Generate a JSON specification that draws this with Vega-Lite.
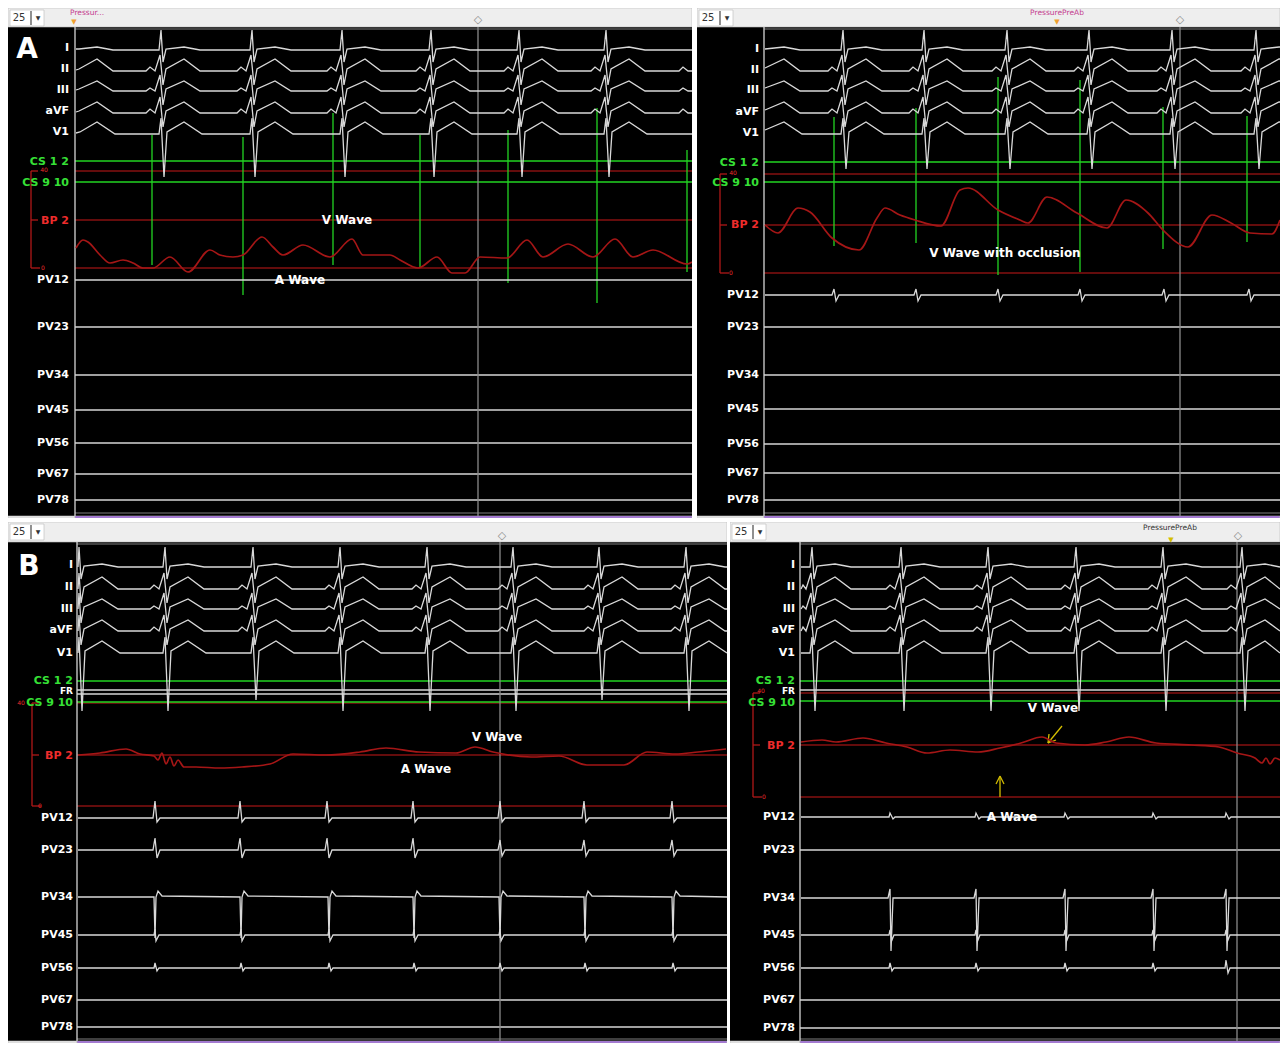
{
"$schema":"https://vega.github.io/schema/vega-lite/v6.json",
"background":"#ffffff",
"padding":{"left":8,"top":8,"right":4,"bottom":2},
"config":{"view":{"stroke":null}},
"datasets":{
"a1b":[{"k":"tb","x":8,"x2":692,"y":8,"y2":27},{"k":"wb","x":10,"x2":44,"y":10,"y2":26},{"k":"tb","x":8,"x2":75,"y":516,"y2":518},{"k":"pu","x":75,"x2":692,"y":516,"y2":518}],
"a1r":[{"k":"q","x":75,"y":29,"x2":692,"y2":29},{"k":"q","x":75,"y":513,"x2":692,"y2":513},
{"k":"d","x":75,"y":171,"x2":692,"y2":171},{"k":"d","x":75,"y":220,"x2":692,"y2":220},{"k":"d","x":75,"y":268,"x2":692,"y2":268},
{"k":"r","x":31,"y":171,"x2":31,"y2":268},{"k":"r","x":31,"y":171,"x2":38,"y2":171},{"k":"r","x":31,"y":220,"x2":38,"y2":220},{"k":"r","x":31,"y":268,"x2":40,"y2":268},
{"k":"g","x":75,"y":161,"x2":692,"y2":161},{"k":"g","x":75,"y":182,"x2":692,"y2":182},
{"k":"g","x":152,"y":135,"x2":152,"y2":265},{"k":"g","x":243,"y":137,"x2":243,"y2":295},{"k":"g","x":333,"y":113,"x2":333,"y2":265},{"k":"g","x":420,"y":135,"x2":420,"y2":267},{"k":"g","x":508,"y":130,"x2":508,"y2":283},{"k":"g","x":597,"y":108,"x2":597,"y2":303},{"k":"g","x":687,"y":150,"x2":687,"y2":272},
{"k":"w","x":75,"y":280,"x2":692,"y2":280},{"k":"w","x":75,"y":327,"x2":692,"y2":327},{"k":"w","x":75,"y":375,"x2":692,"y2":375},{"k":"w","x":75,"y":410,"x2":692,"y2":410},{"k":"w","x":75,"y":443,"x2":692,"y2":443},{"k":"w","x":75,"y":474,"x2":692,"y2":474},{"k":"w","x":75,"y":500,"x2":692,"y2":500},
{"k":"w","x":75,"y":27,"x2":75,"y2":516},{"k":"c","x":478,"y":27,"x2":478,"y2":516},{"k":"q","x":31,"y":11,"x2":31,"y2":25}],
"a1x":[{"r":"lab","s":"I","x":69,"y":48,"k":"W"},{"r":"lab","s":"II","x":69,"y":69,"k":"W"},{"r":"lab","s":"III","x":69,"y":90,"k":"W"},{"r":"lab","s":"aVF","x":69,"y":111,"k":"W"},{"r":"lab","s":"V1","x":69,"y":132,"k":"W"},
{"r":"lab","s":"CS 1 2","x":69,"y":162,"k":"G"},{"r":"lab","s":"CS 9 10","x":69,"y":183,"k":"G"},{"r":"lab","s":"BP 2","x":69,"y":221,"k":"R"},
{"r":"lab","s":"PV12","x":69,"y":280,"k":"W"},{"r":"lab","s":"PV23","x":69,"y":327,"k":"W"},{"r":"lab","s":"PV34","x":69,"y":375,"k":"W"},{"r":"lab","s":"PV45","x":69,"y":410,"k":"W"},{"r":"lab","s":"PV56","x":69,"y":443,"k":"W"},{"r":"lab","s":"PV67","x":69,"y":474,"k":"W"},{"r":"lab","s":"PV78","x":69,"y":500,"k":"W"},
{"r":"big","s":"A","x":27,"y":50,"k":"W"},{"r":"ann","s":"V Wave","x":347,"y":220,"k":"W"},{"r":"ann","s":"A Wave","x":300,"y":280,"k":"W"},
{"r":"num","s":"25","x":19,"y":18,"k":"t"},{"r":"sm","s":"▼","x":38,"y":18,"k":"t"},{"r":"tb","s":"Pressur...","x":87,"y":13,"k":"m"},{"r":"tri","s":"▼","x":74,"y":22,"k":"o"},{"r":"sym","s":"◇","x":478,"y":20,"k":"c"},{"r":"sm","s":"40","x":44,"y":170,"k":"R"},{"r":"sm","s":"0","x":43,"y":268,"k":"R"}],
"a1t":[
{"c":"I","x":76,"y":49},{"c":"I","x":79,"y":49},{"c":"I","x":97,"y":47},{"c":"I","x":113,"y":50},
{"c":"I","x":159,"y":50},{"c":"I","x":161,"y":30},{"c":"I","x":163,"y":62},{"c":"I","x":166,"y":49},{"c":"I","x":184,"y":47},{"c":"I","x":200,"y":50},
{"c":"I","x":250,"y":50},{"c":"I","x":252,"y":30},{"c":"I","x":254,"y":62},{"c":"I","x":257,"y":49},{"c":"I","x":275,"y":47},{"c":"I","x":291,"y":50},
{"c":"I","x":340,"y":50},{"c":"I","x":342,"y":30},{"c":"I","x":344,"y":62},{"c":"I","x":347,"y":49},{"c":"I","x":365,"y":47},{"c":"I","x":381,"y":50},
{"c":"I","x":429,"y":50},{"c":"I","x":431,"y":30},{"c":"I","x":433,"y":62},{"c":"I","x":436,"y":49},{"c":"I","x":454,"y":47},{"c":"I","x":470,"y":50},
{"c":"I","x":517,"y":50},{"c":"I","x":519,"y":30},{"c":"I","x":521,"y":62},{"c":"I","x":524,"y":49},{"c":"I","x":542,"y":47},{"c":"I","x":558,"y":50},
{"c":"I","x":604,"y":50},{"c":"I","x":606,"y":30},{"c":"I","x":608,"y":62},{"c":"I","x":611,"y":49},{"c":"I","x":629,"y":47},{"c":"I","x":645,"y":50},{"c":"I","x":692,"y":50},
{"c":"II","x":76,"y":70},{"c":"II","x":79,"y":69},{"c":"II","x":97,"y":59},{"c":"II","x":113,"y":71},
{"c":"II","x":146,"y":71},{"c":"II","x":150,"y":67},{"c":"II","x":155,"y":71},{"c":"II","x":160,"y":55},{"c":"II","x":163,"y":85},{"c":"II","x":166,"y":69},{"c":"II","x":184,"y":59},{"c":"II","x":200,"y":71},
{"c":"II","x":237,"y":71},{"c":"II","x":241,"y":67},{"c":"II","x":246,"y":71},{"c":"II","x":251,"y":55},{"c":"II","x":254,"y":85},{"c":"II","x":257,"y":69},{"c":"II","x":275,"y":59},{"c":"II","x":291,"y":71},
{"c":"II","x":327,"y":71},{"c":"II","x":331,"y":67},{"c":"II","x":336,"y":71},{"c":"II","x":341,"y":55},{"c":"II","x":344,"y":85},{"c":"II","x":347,"y":69},{"c":"II","x":365,"y":59},{"c":"II","x":381,"y":71},
{"c":"II","x":416,"y":71},{"c":"II","x":420,"y":67},{"c":"II","x":425,"y":71},{"c":"II","x":430,"y":55},{"c":"II","x":433,"y":85},{"c":"II","x":436,"y":69},{"c":"II","x":454,"y":59},{"c":"II","x":470,"y":71},
{"c":"II","x":504,"y":71},{"c":"II","x":508,"y":67},{"c":"II","x":513,"y":71},{"c":"II","x":518,"y":55},{"c":"II","x":521,"y":85},{"c":"II","x":524,"y":69},{"c":"II","x":542,"y":59},{"c":"II","x":558,"y":71},
{"c":"II","x":591,"y":71},{"c":"II","x":595,"y":67},{"c":"II","x":600,"y":71},{"c":"II","x":605,"y":55},{"c":"II","x":608,"y":85},{"c":"II","x":611,"y":69},{"c":"II","x":629,"y":59},{"c":"II","x":645,"y":71},
{"c":"II","x":679,"y":71},{"c":"II","x":683,"y":67},{"c":"II","x":688,"y":71},{"c":"II","x":692,"y":71},
{"c":"III","x":76,"y":90},{"c":"III","x":79,"y":89},{"c":"III","x":97,"y":81},{"c":"III","x":113,"y":91},
{"c":"III","x":146,"y":91},{"c":"III","x":150,"y":88},{"c":"III","x":155,"y":91},{"c":"III","x":160,"y":75},{"c":"III","x":163,"y":105},{"c":"III","x":166,"y":89},{"c":"III","x":184,"y":81},{"c":"III","x":200,"y":91},
{"c":"III","x":237,"y":91},{"c":"III","x":241,"y":88},{"c":"III","x":246,"y":91},{"c":"III","x":251,"y":75},{"c":"III","x":254,"y":105},{"c":"III","x":257,"y":89},{"c":"III","x":275,"y":81},{"c":"III","x":291,"y":91},
{"c":"III","x":327,"y":91},{"c":"III","x":331,"y":88},{"c":"III","x":336,"y":91},{"c":"III","x":341,"y":75},{"c":"III","x":344,"y":105},{"c":"III","x":347,"y":89},{"c":"III","x":365,"y":81},{"c":"III","x":381,"y":91},
{"c":"III","x":416,"y":91},{"c":"III","x":420,"y":88},{"c":"III","x":425,"y":91},{"c":"III","x":430,"y":75},{"c":"III","x":433,"y":105},{"c":"III","x":436,"y":89},{"c":"III","x":454,"y":81},{"c":"III","x":470,"y":91},
{"c":"III","x":504,"y":91},{"c":"III","x":508,"y":88},{"c":"III","x":513,"y":91},{"c":"III","x":518,"y":75},{"c":"III","x":521,"y":105},{"c":"III","x":524,"y":89},{"c":"III","x":542,"y":81},{"c":"III","x":558,"y":91},
{"c":"III","x":591,"y":91},{"c":"III","x":595,"y":88},{"c":"III","x":600,"y":91},{"c":"III","x":605,"y":75},{"c":"III","x":608,"y":105},{"c":"III","x":611,"y":89},{"c":"III","x":629,"y":81},{"c":"III","x":645,"y":91},
{"c":"III","x":679,"y":91},{"c":"III","x":683,"y":88},{"c":"III","x":688,"y":91},{"c":"III","x":692,"y":91},
{"c":"aVF","x":76,"y":112},{"c":"aVF","x":79,"y":111},{"c":"aVF","x":97,"y":102},{"c":"aVF","x":113,"y":113},
{"c":"aVF","x":146,"y":113},{"c":"aVF","x":150,"y":109},{"c":"aVF","x":155,"y":113},{"c":"aVF","x":160,"y":97},{"c":"aVF","x":163,"y":127},{"c":"aVF","x":166,"y":111},{"c":"aVF","x":184,"y":102},{"c":"aVF","x":200,"y":113},
{"c":"aVF","x":237,"y":113},{"c":"aVF","x":241,"y":109},{"c":"aVF","x":246,"y":113},{"c":"aVF","x":251,"y":97},{"c":"aVF","x":254,"y":127},{"c":"aVF","x":257,"y":111},{"c":"aVF","x":275,"y":102},{"c":"aVF","x":291,"y":113},
{"c":"aVF","x":327,"y":113},{"c":"aVF","x":331,"y":109},{"c":"aVF","x":336,"y":113},{"c":"aVF","x":341,"y":97},{"c":"aVF","x":344,"y":127},{"c":"aVF","x":347,"y":111},{"c":"aVF","x":365,"y":102},{"c":"aVF","x":381,"y":113},
{"c":"aVF","x":416,"y":113},{"c":"aVF","x":420,"y":109},{"c":"aVF","x":425,"y":113},{"c":"aVF","x":430,"y":97},{"c":"aVF","x":433,"y":127},{"c":"aVF","x":436,"y":111},{"c":"aVF","x":454,"y":102},{"c":"aVF","x":470,"y":113},
{"c":"aVF","x":504,"y":113},{"c":"aVF","x":508,"y":109},{"c":"aVF","x":513,"y":113},{"c":"aVF","x":518,"y":97},{"c":"aVF","x":521,"y":127},{"c":"aVF","x":524,"y":111},{"c":"aVF","x":542,"y":102},{"c":"aVF","x":558,"y":113},
{"c":"aVF","x":591,"y":113},{"c":"aVF","x":595,"y":109},{"c":"aVF","x":600,"y":113},{"c":"aVF","x":605,"y":97},{"c":"aVF","x":608,"y":127},{"c":"aVF","x":611,"y":111},{"c":"aVF","x":629,"y":102},{"c":"aVF","x":645,"y":113},
{"c":"aVF","x":679,"y":113},{"c":"aVF","x":683,"y":109},{"c":"aVF","x":688,"y":113},{"c":"aVF","x":692,"y":113},
{"c":"V1","x":76,"y":133},{"c":"V1","x":80,"y":132},{"c":"V1","x":97,"y":122},{"c":"V1","x":115,"y":134},
{"c":"V1","x":159,"y":134},{"c":"V1","x":161,"y":118},{"c":"V1","x":164,"y":177},{"c":"V1","x":167,"y":132},{"c":"V1","x":184,"y":122},{"c":"V1","x":202,"y":134},
{"c":"V1","x":250,"y":134},{"c":"V1","x":252,"y":118},{"c":"V1","x":255,"y":177},{"c":"V1","x":258,"y":132},{"c":"V1","x":275,"y":122},{"c":"V1","x":293,"y":134},
{"c":"V1","x":340,"y":134},{"c":"V1","x":342,"y":118},{"c":"V1","x":345,"y":177},{"c":"V1","x":348,"y":132},{"c":"V1","x":365,"y":122},{"c":"V1","x":383,"y":134},
{"c":"V1","x":429,"y":134},{"c":"V1","x":431,"y":118},{"c":"V1","x":434,"y":177},{"c":"V1","x":437,"y":132},{"c":"V1","x":454,"y":122},{"c":"V1","x":472,"y":134},
{"c":"V1","x":517,"y":134},{"c":"V1","x":519,"y":118},{"c":"V1","x":522,"y":177},{"c":"V1","x":525,"y":132},{"c":"V1","x":542,"y":122},{"c":"V1","x":560,"y":134},
{"c":"V1","x":604,"y":134},{"c":"V1","x":606,"y":118},{"c":"V1","x":609,"y":177},{"c":"V1","x":612,"y":132},{"c":"V1","x":629,"y":122},{"c":"V1","x":647,"y":134},{"c":"V1","x":692,"y":134},
{"c":"BP","x":76,"y":248},{"c":"BP","x":83,"y":240},{"c":"BP","x":88,"y":242},{"c":"BP","x":100,"y":255},{"c":"BP","x":110,"y":263},{"c":"BP","x":123,"y":260},{"c":"BP","x":133,"y":263},{"c":"BP","x":143,"y":268},{"c":"BP","x":153,"y":268},{"c":"BP","x":170,"y":257},{"c":"BP","x":188,"y":272},{"c":"BP","x":210,"y":250},{"c":"BP","x":220,"y":255},{"c":"BP","x":233,"y":257},{"c":"BP","x":243,"y":255},{"c":"BP","x":262,"y":237},{"c":"BP","x":273,"y":247},{"c":"BP","x":283,"y":255},{"c":"BP","x":303,"y":245},{"c":"BP","x":330,"y":257},{"c":"BP","x":352,"y":239},{"c":"BP","x":363,"y":255},{"c":"BP","x":390,"y":255},{"c":"BP","x":400,"y":260},{"c":"BP","x":418,"y":268},{"c":"BP","x":437,"y":257},{"c":"BP","x":452,"y":273},{"c":"BP","x":465,"y":273},{"c":"BP","x":480,"y":257},{"c":"BP","x":507,"y":258},{"c":"BP","x":527,"y":240},{"c":"BP","x":543,"y":257},{"c":"BP","x":568,"y":244},{"c":"BP","x":593,"y":257},{"c":"BP","x":615,"y":239},{"c":"BP","x":633,"y":257},{"c":"BP","x":653,"y":250},{"c":"BP","x":687,"y":264},{"c":"BP","x":692,"y":262}
],
"a2b":[{"k":"tb","x":697,"x2":1280,"y":8,"y2":27},{"k":"wb","x":699,"x2":733,"y":10,"y2":26},{"k":"tb","x":697,"x2":764,"y":516,"y2":518},{"k":"pu","x":764,"x2":1280,"y":516,"y2":518}],
"a2r":[{"k":"q","x":764,"y":29,"x2":1280,"y2":29},{"k":"q","x":764,"y":513,"x2":1280,"y2":513},
{"k":"d","x":764,"y":174,"x2":1280,"y2":174},{"k":"d","x":764,"y":225,"x2":1280,"y2":225},{"k":"d","x":764,"y":273,"x2":1280,"y2":273},
{"k":"r","x":720,"y":174,"x2":720,"y2":273},{"k":"r","x":720,"y":174,"x2":727,"y2":174},{"k":"r","x":720,"y":225,"x2":727,"y2":225},{"k":"r","x":720,"y":273,"x2":729,"y2":273},
{"k":"g","x":764,"y":162,"x2":1280,"y2":162},{"k":"g","x":764,"y":182,"x2":1280,"y2":182},
{"k":"g","x":834,"y":117,"x2":834,"y2":246},{"k":"g","x":916,"y":108,"x2":916,"y2":243},{"k":"g","x":998,"y":77,"x2":998,"y2":275},{"k":"g","x":1080,"y":80,"x2":1080,"y2":272},{"k":"g","x":1163,"y":107,"x2":1163,"y2":249},{"k":"g","x":1247,"y":116,"x2":1247,"y2":242},
{"k":"w","x":764,"y":327,"x2":1280,"y2":327},{"k":"w","x":764,"y":375,"x2":1280,"y2":375},{"k":"w","x":764,"y":409,"x2":1280,"y2":409},{"k":"w","x":764,"y":444,"x2":1280,"y2":444},{"k":"w","x":764,"y":473,"x2":1280,"y2":473},{"k":"w","x":764,"y":500,"x2":1280,"y2":500},
{"k":"w","x":764,"y":27,"x2":764,"y2":516},{"k":"c","x":1180,"y":27,"x2":1180,"y2":516},{"k":"q","x":720,"y":11,"x2":720,"y2":25}],
"a2x":[{"r":"lab","s":"I","x":759,"y":49,"k":"W"},{"r":"lab","s":"II","x":759,"y":70,"k":"W"},{"r":"lab","s":"III","x":759,"y":90,"k":"W"},{"r":"lab","s":"aVF","x":759,"y":112,"k":"W"},{"r":"lab","s":"V1","x":759,"y":133,"k":"W"},
{"r":"lab","s":"CS 1 2","x":759,"y":163,"k":"G"},{"r":"lab","s":"CS 9 10","x":759,"y":183,"k":"G"},{"r":"lab","s":"BP 2","x":759,"y":225,"k":"R"},
{"r":"lab","s":"PV12","x":759,"y":295,"k":"W"},{"r":"lab","s":"PV23","x":759,"y":327,"k":"W"},{"r":"lab","s":"PV34","x":759,"y":375,"k":"W"},{"r":"lab","s":"PV45","x":759,"y":409,"k":"W"},{"r":"lab","s":"PV56","x":759,"y":444,"k":"W"},{"r":"lab","s":"PV67","x":759,"y":473,"k":"W"},{"r":"lab","s":"PV78","x":759,"y":500,"k":"W"},
{"r":"ann","s":"V Wave with occlusion","x":1005,"y":253,"k":"W"},
{"r":"num","s":"25","x":708,"y":18,"k":"t"},{"r":"sm","s":"▼","x":727,"y":18,"k":"t"},{"r":"tb","s":"PressurePreAb","x":1057,"y":13,"k":"m"},{"r":"tri","s":"▼","x":1057,"y":22,"k":"o"},{"r":"sym","s":"◇","x":1180,"y":20,"k":"c"},{"r":"sm","s":"40","x":733,"y":173,"k":"R"},{"r":"sm","s":"0","x":731,"y":273,"k":"R"}],
"a2t":[
{"c":"I","x":765,"y":49},{"c":"I","x":784,"y":47},{"c":"I","x":800,"y":50},
{"c":"I","x":841,"y":50},{"c":"I","x":843,"y":30},{"c":"I","x":845,"y":62},{"c":"I","x":848,"y":49},{"c":"I","x":866,"y":47},{"c":"I","x":882,"y":50},
{"c":"I","x":922,"y":50},{"c":"I","x":924,"y":30},{"c":"I","x":926,"y":62},{"c":"I","x":929,"y":49},{"c":"I","x":947,"y":47},{"c":"I","x":963,"y":50},
{"c":"I","x":1005,"y":50},{"c":"I","x":1007,"y":30},{"c":"I","x":1009,"y":62},{"c":"I","x":1012,"y":49},{"c":"I","x":1030,"y":47},{"c":"I","x":1046,"y":50},
{"c":"I","x":1087,"y":50},{"c":"I","x":1089,"y":30},{"c":"I","x":1091,"y":62},{"c":"I","x":1094,"y":49},{"c":"I","x":1112,"y":47},{"c":"I","x":1128,"y":50},
{"c":"I","x":1170,"y":50},{"c":"I","x":1172,"y":30},{"c":"I","x":1174,"y":62},{"c":"I","x":1177,"y":49},{"c":"I","x":1195,"y":47},{"c":"I","x":1211,"y":50},
{"c":"I","x":1254,"y":50},{"c":"I","x":1256,"y":30},{"c":"I","x":1258,"y":62},{"c":"I","x":1261,"y":49},{"c":"I","x":1279,"y":47},{"c":"I","x":1280,"y":47},
{"c":"II","x":765,"y":68},{"c":"II","x":784,"y":59},{"c":"II","x":800,"y":71},
{"c":"II","x":828,"y":71},{"c":"II","x":832,"y":67},{"c":"II","x":837,"y":71},{"c":"II","x":842,"y":55},{"c":"II","x":845,"y":85},{"c":"II","x":848,"y":69},{"c":"II","x":866,"y":59},{"c":"II","x":882,"y":71},
{"c":"II","x":909,"y":71},{"c":"II","x":913,"y":67},{"c":"II","x":918,"y":71},{"c":"II","x":923,"y":55},{"c":"II","x":926,"y":85},{"c":"II","x":929,"y":69},{"c":"II","x":947,"y":59},{"c":"II","x":963,"y":71},
{"c":"II","x":992,"y":71},{"c":"II","x":996,"y":67},{"c":"II","x":1001,"y":71},{"c":"II","x":1006,"y":55},{"c":"II","x":1009,"y":85},{"c":"II","x":1012,"y":69},{"c":"II","x":1030,"y":59},{"c":"II","x":1046,"y":71},
{"c":"II","x":1074,"y":71},{"c":"II","x":1078,"y":67},{"c":"II","x":1083,"y":71},{"c":"II","x":1088,"y":55},{"c":"II","x":1091,"y":85},{"c":"II","x":1094,"y":69},{"c":"II","x":1112,"y":59},{"c":"II","x":1128,"y":71},
{"c":"II","x":1157,"y":71},{"c":"II","x":1161,"y":67},{"c":"II","x":1166,"y":71},{"c":"II","x":1171,"y":55},{"c":"II","x":1174,"y":85},{"c":"II","x":1177,"y":69},{"c":"II","x":1195,"y":59},{"c":"II","x":1211,"y":71},
{"c":"II","x":1241,"y":71},{"c":"II","x":1245,"y":67},{"c":"II","x":1250,"y":71},{"c":"II","x":1255,"y":55},{"c":"II","x":1258,"y":85},{"c":"II","x":1261,"y":69},{"c":"II","x":1279,"y":59},{"c":"II","x":1280,"y":59},
{"c":"III","x":765,"y":88},{"c":"III","x":784,"y":81},{"c":"III","x":800,"y":91},
{"c":"III","x":828,"y":91},{"c":"III","x":832,"y":88},{"c":"III","x":837,"y":91},{"c":"III","x":842,"y":75},{"c":"III","x":845,"y":105},{"c":"III","x":848,"y":89},{"c":"III","x":866,"y":81},{"c":"III","x":882,"y":91},
{"c":"III","x":909,"y":91},{"c":"III","x":913,"y":88},{"c":"III","x":918,"y":91},{"c":"III","x":923,"y":75},{"c":"III","x":926,"y":105},{"c":"III","x":929,"y":89},{"c":"III","x":947,"y":81},{"c":"III","x":963,"y":91},
{"c":"III","x":992,"y":91},{"c":"III","x":996,"y":88},{"c":"III","x":1001,"y":91},{"c":"III","x":1006,"y":75},{"c":"III","x":1009,"y":105},{"c":"III","x":1012,"y":89},{"c":"III","x":1030,"y":81},{"c":"III","x":1046,"y":91},
{"c":"III","x":1074,"y":91},{"c":"III","x":1078,"y":88},{"c":"III","x":1083,"y":91},{"c":"III","x":1088,"y":75},{"c":"III","x":1091,"y":105},{"c":"III","x":1094,"y":89},{"c":"III","x":1112,"y":81},{"c":"III","x":1128,"y":91},
{"c":"III","x":1157,"y":91},{"c":"III","x":1161,"y":88},{"c":"III","x":1166,"y":91},{"c":"III","x":1171,"y":75},{"c":"III","x":1174,"y":105},{"c":"III","x":1177,"y":89},{"c":"III","x":1195,"y":81},{"c":"III","x":1211,"y":91},
{"c":"III","x":1241,"y":91},{"c":"III","x":1245,"y":88},{"c":"III","x":1250,"y":91},{"c":"III","x":1255,"y":75},{"c":"III","x":1258,"y":105},{"c":"III","x":1261,"y":89},{"c":"III","x":1279,"y":81},{"c":"III","x":1280,"y":81},
{"c":"aVF","x":765,"y":110},{"c":"aVF","x":784,"y":102},{"c":"aVF","x":800,"y":113},
{"c":"aVF","x":828,"y":113},{"c":"aVF","x":832,"y":109},{"c":"aVF","x":837,"y":113},{"c":"aVF","x":842,"y":97},{"c":"aVF","x":845,"y":127},{"c":"aVF","x":848,"y":111},{"c":"aVF","x":866,"y":102},{"c":"aVF","x":882,"y":113},
{"c":"aVF","x":909,"y":113},{"c":"aVF","x":913,"y":109},{"c":"aVF","x":918,"y":113},{"c":"aVF","x":923,"y":97},{"c":"aVF","x":926,"y":127},{"c":"aVF","x":929,"y":111},{"c":"aVF","x":947,"y":102},{"c":"aVF","x":963,"y":113},
{"c":"aVF","x":992,"y":113},{"c":"aVF","x":996,"y":109},{"c":"aVF","x":1001,"y":113},{"c":"aVF","x":1006,"y":97},{"c":"aVF","x":1009,"y":127},{"c":"aVF","x":1012,"y":111},{"c":"aVF","x":1030,"y":102},{"c":"aVF","x":1046,"y":113},
{"c":"aVF","x":1074,"y":113},{"c":"aVF","x":1078,"y":109},{"c":"aVF","x":1083,"y":113},{"c":"aVF","x":1088,"y":97},{"c":"aVF","x":1091,"y":127},{"c":"aVF","x":1094,"y":111},{"c":"aVF","x":1112,"y":102},{"c":"aVF","x":1128,"y":113},
{"c":"aVF","x":1157,"y":113},{"c":"aVF","x":1161,"y":109},{"c":"aVF","x":1166,"y":113},{"c":"aVF","x":1171,"y":97},{"c":"aVF","x":1174,"y":127},{"c":"aVF","x":1177,"y":111},{"c":"aVF","x":1195,"y":102},{"c":"aVF","x":1211,"y":113},
{"c":"aVF","x":1241,"y":113},{"c":"aVF","x":1245,"y":109},{"c":"aVF","x":1250,"y":113},{"c":"aVF","x":1255,"y":97},{"c":"aVF","x":1258,"y":127},{"c":"aVF","x":1261,"y":111},{"c":"aVF","x":1279,"y":102},{"c":"aVF","x":1280,"y":102},
{"c":"V1","x":765,"y":130},{"c":"V1","x":784,"y":122},{"c":"V1","x":802,"y":134},
{"c":"V1","x":841,"y":134},{"c":"V1","x":843,"y":118},{"c":"V1","x":846,"y":169},{"c":"V1","x":849,"y":132},{"c":"V1","x":866,"y":122},{"c":"V1","x":884,"y":134},
{"c":"V1","x":922,"y":134},{"c":"V1","x":924,"y":118},{"c":"V1","x":927,"y":169},{"c":"V1","x":930,"y":132},{"c":"V1","x":947,"y":122},{"c":"V1","x":965,"y":134},
{"c":"V1","x":1005,"y":134},{"c":"V1","x":1007,"y":118},{"c":"V1","x":1010,"y":169},{"c":"V1","x":1013,"y":132},{"c":"V1","x":1030,"y":122},{"c":"V1","x":1048,"y":134},
{"c":"V1","x":1087,"y":134},{"c":"V1","x":1089,"y":118},{"c":"V1","x":1092,"y":169},{"c":"V1","x":1095,"y":132},{"c":"V1","x":1112,"y":122},{"c":"V1","x":1130,"y":134},
{"c":"V1","x":1170,"y":134},{"c":"V1","x":1172,"y":118},{"c":"V1","x":1175,"y":169},{"c":"V1","x":1178,"y":132},{"c":"V1","x":1195,"y":122},{"c":"V1","x":1213,"y":134},
{"c":"V1","x":1254,"y":134},{"c":"V1","x":1256,"y":118},{"c":"V1","x":1259,"y":169},{"c":"V1","x":1262,"y":132},{"c":"V1","x":1279,"y":122},{"c":"V1","x":1280,"y":122},
{"c":"PV12","x":765,"y":295},{"c":"PV12","x":832,"y":295},{"c":"PV12","x":834,"y":289},{"c":"PV12","x":836,"y":301},{"c":"PV12","x":839,"y":295},{"c":"PV12","x":914,"y":295},{"c":"PV12","x":916,"y":289},{"c":"PV12","x":918,"y":301},{"c":"PV12","x":921,"y":295},{"c":"PV12","x":996,"y":295},{"c":"PV12","x":998,"y":289},{"c":"PV12","x":1000,"y":301},{"c":"PV12","x":1003,"y":295},{"c":"PV12","x":1078,"y":295},{"c":"PV12","x":1080,"y":289},{"c":"PV12","x":1082,"y":301},{"c":"PV12","x":1085,"y":295},{"c":"PV12","x":1162,"y":295},{"c":"PV12","x":1164,"y":289},{"c":"PV12","x":1166,"y":301},{"c":"PV12","x":1169,"y":295},{"c":"PV12","x":1247,"y":295},{"c":"PV12","x":1249,"y":289},{"c":"PV12","x":1251,"y":301},{"c":"PV12","x":1254,"y":295},{"c":"PV12","x":1280,"y":295},
{"c":"BP","x":765,"y":225},{"c":"BP","x":778,"y":233},{"c":"BP","x":798,"y":208},{"c":"BP","x":810,"y":212},{"c":"BP","x":832,"y":238},{"c":"BP","x":859,"y":250},{"c":"BP","x":877,"y":218},{"c":"BP","x":885,"y":208},{"c":"BP","x":900,"y":215},{"c":"BP","x":915,"y":220},{"c":"BP","x":941,"y":226},{"c":"BP","x":960,"y":190},{"c":"BP","x":968,"y":188},{"c":"BP","x":998,"y":210},{"c":"BP","x":1020,"y":220},{"c":"BP","x":1028,"y":223},{"c":"BP","x":1047,"y":197},{"c":"BP","x":1077,"y":213},{"c":"BP","x":1107,"y":228},{"c":"BP","x":1126,"y":200},{"c":"BP","x":1148,"y":213},{"c":"BP","x":1163,"y":230},{"c":"BP","x":1188,"y":247},{"c":"BP","x":1212,"y":215},{"c":"BP","x":1231,"y":223},{"c":"BP","x":1250,"y":233},{"c":"BP","x":1272,"y":234},{"c":"BP","x":1280,"y":220}
],
"b1b":[{"k":"tb","x":8,"x2":727,"y":522,"y2":542},{"k":"wb","x":10,"x2":44,"y":524,"y2":540},{"k":"tb","x":8,"x2":77,"y":1041,"y2":1043},{"k":"pu","x":77,"x2":727,"y":1041,"y2":1043}],
"b1r":[{"k":"q","x":77,"y":544,"x2":727,"y2":544},{"k":"q","x":77,"y":1039,"x2":727,"y2":1039},
{"k":"d","x":77,"y":703,"x2":727,"y2":703},{"k":"d","x":77,"y":755,"x2":727,"y2":755},{"k":"d","x":77,"y":806,"x2":727,"y2":806},
{"k":"r","x":32,"y":703,"x2":32,"y2":806},{"k":"r","x":32,"y":703,"x2":39,"y2":703},{"k":"r","x":32,"y":755,"x2":39,"y2":755},{"k":"r","x":32,"y":806,"x2":41,"y2":806},
{"k":"g","x":77,"y":681,"x2":727,"y2":681},{"k":"g","x":77,"y":702,"x2":727,"y2":702},
{"k":"w","x":77,"y":690,"x2":727,"y2":690},{"k":"w","x":77,"y":694,"x2":727,"y2":694},
{"k":"w","x":77,"y":1000,"x2":727,"y2":1000},{"k":"w","x":77,"y":1027,"x2":727,"y2":1027},
{"k":"w","x":77,"y":542,"x2":77,"y2":1041},{"k":"c","x":500,"y":542,"x2":500,"y2":1041},{"k":"q","x":31,"y":525,"x2":31,"y2":539}],
"b1x":[{"r":"lab","s":"I","x":73,"y":565,"k":"W"},{"r":"lab","s":"II","x":73,"y":587,"k":"W"},{"r":"lab","s":"III","x":73,"y":609,"k":"W"},{"r":"lab","s":"aVF","x":73,"y":630,"k":"W"},{"r":"lab","s":"V1","x":73,"y":653,"k":"W"},
{"r":"lab","s":"CS 1 2","x":73,"y":681,"k":"G"},{"r":"lab","s":"FR","x":73,"y":691,"k":"W"},{"r":"lab","s":"CS 9 10","x":73,"y":703,"k":"G"},{"r":"lab","s":"BP 2","x":73,"y":756,"k":"R"},
{"r":"lab","s":"PV12","x":73,"y":818,"k":"W"},{"r":"lab","s":"PV23","x":73,"y":850,"k":"W"},{"r":"lab","s":"PV34","x":73,"y":897,"k":"W"},{"r":"lab","s":"PV45","x":73,"y":935,"k":"W"},{"r":"lab","s":"PV56","x":73,"y":968,"k":"W"},{"r":"lab","s":"PV67","x":73,"y":1000,"k":"W"},{"r":"lab","s":"PV78","x":73,"y":1027,"k":"W"},
{"r":"big","s":"B","x":29,"y":567,"k":"W"},{"r":"ann","s":"V Wave","x":497,"y":737,"k":"W"},{"r":"ann","s":"A Wave","x":426,"y":769,"k":"W"},
{"r":"num","s":"25","x":19,"y":532,"k":"t"},{"r":"sm","s":"▼","x":38,"y":532,"k":"t"},{"r":"sym","s":"◇","x":502,"y":536,"k":"c"},{"r":"sm","s":"40","x":21,"y":703,"k":"R"},{"r":"sm","s":"0","x":40,"y":806,"k":"R"}],
"b1t":[
{"c":"I","x":78,"y":567},{"c":"I","x":79,"y":547},{"c":"I","x":81,"y":579},{"c":"I","x":84,"y":566},{"c":"I","x":102,"y":564},{"c":"I","x":118,"y":567},
{"c":"I","x":163,"y":567},{"c":"I","x":165,"y":547},{"c":"I","x":167,"y":579},{"c":"I","x":170,"y":566},{"c":"I","x":188,"y":564},{"c":"I","x":204,"y":567},
{"c":"I","x":251,"y":567},{"c":"I","x":253,"y":547},{"c":"I","x":255,"y":579},{"c":"I","x":258,"y":566},{"c":"I","x":276,"y":564},{"c":"I","x":292,"y":567},
{"c":"I","x":338,"y":567},{"c":"I","x":340,"y":547},{"c":"I","x":342,"y":579},{"c":"I","x":345,"y":566},{"c":"I","x":363,"y":564},{"c":"I","x":379,"y":567},
{"c":"I","x":425,"y":567},{"c":"I","x":427,"y":547},{"c":"I","x":429,"y":579},{"c":"I","x":432,"y":566},{"c":"I","x":450,"y":564},{"c":"I","x":466,"y":567},
{"c":"I","x":511,"y":567},{"c":"I","x":513,"y":547},{"c":"I","x":515,"y":579},{"c":"I","x":518,"y":566},{"c":"I","x":536,"y":564},{"c":"I","x":552,"y":567},
{"c":"I","x":597,"y":567},{"c":"I","x":599,"y":547},{"c":"I","x":601,"y":579},{"c":"I","x":604,"y":566},{"c":"I","x":622,"y":564},{"c":"I","x":638,"y":567},
{"c":"I","x":684,"y":567},{"c":"I","x":686,"y":547},{"c":"I","x":688,"y":579},{"c":"I","x":691,"y":566},{"c":"I","x":709,"y":564},{"c":"I","x":725,"y":567},{"c":"I","x":727,"y":567},
{"c":"II","x":78,"y":589},{"c":"II","x":79,"y":573},{"c":"II","x":81,"y":603},{"c":"II","x":84,"y":587},{"c":"II","x":102,"y":577},{"c":"II","x":118,"y":589},
{"c":"II","x":150,"y":589},{"c":"II","x":154,"y":585},{"c":"II","x":159,"y":589},{"c":"II","x":164,"y":573},{"c":"II","x":167,"y":603},{"c":"II","x":170,"y":587},{"c":"II","x":188,"y":577},{"c":"II","x":204,"y":589},
{"c":"II","x":238,"y":589},{"c":"II","x":242,"y":585},{"c":"II","x":247,"y":589},{"c":"II","x":252,"y":573},{"c":"II","x":255,"y":603},{"c":"II","x":258,"y":587},{"c":"II","x":276,"y":577},{"c":"II","x":292,"y":589},
{"c":"II","x":325,"y":589},{"c":"II","x":329,"y":585},{"c":"II","x":334,"y":589},{"c":"II","x":339,"y":573},{"c":"II","x":342,"y":603},{"c":"II","x":345,"y":587},{"c":"II","x":363,"y":577},{"c":"II","x":379,"y":589},
{"c":"II","x":412,"y":589},{"c":"II","x":416,"y":585},{"c":"II","x":421,"y":589},{"c":"II","x":426,"y":573},{"c":"II","x":429,"y":603},{"c":"II","x":432,"y":587},{"c":"II","x":450,"y":577},{"c":"II","x":466,"y":589},
{"c":"II","x":498,"y":589},{"c":"II","x":502,"y":585},{"c":"II","x":507,"y":589},{"c":"II","x":512,"y":573},{"c":"II","x":515,"y":603},{"c":"II","x":518,"y":587},{"c":"II","x":536,"y":577},{"c":"II","x":552,"y":589},
{"c":"II","x":584,"y":589},{"c":"II","x":588,"y":585},{"c":"II","x":593,"y":589},{"c":"II","x":598,"y":573},{"c":"II","x":601,"y":603},{"c":"II","x":604,"y":587},{"c":"II","x":622,"y":577},{"c":"II","x":638,"y":589},
{"c":"II","x":671,"y":589},{"c":"II","x":675,"y":585},{"c":"II","x":680,"y":589},{"c":"II","x":685,"y":573},{"c":"II","x":688,"y":603},{"c":"II","x":691,"y":587},{"c":"II","x":709,"y":577},{"c":"II","x":725,"y":589},{"c":"II","x":727,"y":589},
{"c":"III","x":78,"y":609},{"c":"III","x":79,"y":593},{"c":"III","x":81,"y":623},{"c":"III","x":84,"y":607},{"c":"III","x":102,"y":599},{"c":"III","x":118,"y":609},
{"c":"III","x":150,"y":609},{"c":"III","x":154,"y":606},{"c":"III","x":159,"y":609},{"c":"III","x":164,"y":593},{"c":"III","x":167,"y":623},{"c":"III","x":170,"y":607},{"c":"III","x":188,"y":599},{"c":"III","x":204,"y":609},
{"c":"III","x":238,"y":609},{"c":"III","x":242,"y":606},{"c":"III","x":247,"y":609},{"c":"III","x":252,"y":593},{"c":"III","x":255,"y":623},{"c":"III","x":258,"y":607},{"c":"III","x":276,"y":599},{"c":"III","x":292,"y":609},
{"c":"III","x":325,"y":609},{"c":"III","x":329,"y":606},{"c":"III","x":334,"y":609},{"c":"III","x":339,"y":593},{"c":"III","x":342,"y":623},{"c":"III","x":345,"y":607},{"c":"III","x":363,"y":599},{"c":"III","x":379,"y":609},
{"c":"III","x":412,"y":609},{"c":"III","x":416,"y":606},{"c":"III","x":421,"y":609},{"c":"III","x":426,"y":593},{"c":"III","x":429,"y":623},{"c":"III","x":432,"y":607},{"c":"III","x":450,"y":599},{"c":"III","x":466,"y":609},
{"c":"III","x":498,"y":609},{"c":"III","x":502,"y":606},{"c":"III","x":507,"y":609},{"c":"III","x":512,"y":593},{"c":"III","x":515,"y":623},{"c":"III","x":518,"y":607},{"c":"III","x":536,"y":599},{"c":"III","x":552,"y":609},
{"c":"III","x":584,"y":609},{"c":"III","x":588,"y":606},{"c":"III","x":593,"y":609},{"c":"III","x":598,"y":593},{"c":"III","x":601,"y":623},{"c":"III","x":604,"y":607},{"c":"III","x":622,"y":599},{"c":"III","x":638,"y":609},
{"c":"III","x":671,"y":609},{"c":"III","x":675,"y":606},{"c":"III","x":680,"y":609},{"c":"III","x":685,"y":593},{"c":"III","x":688,"y":623},{"c":"III","x":691,"y":607},{"c":"III","x":709,"y":599},{"c":"III","x":725,"y":609},{"c":"III","x":727,"y":609},
{"c":"aVF","x":78,"y":631},{"c":"aVF","x":79,"y":615},{"c":"aVF","x":81,"y":645},{"c":"aVF","x":84,"y":629},{"c":"aVF","x":102,"y":620},{"c":"aVF","x":118,"y":631},
{"c":"aVF","x":150,"y":631},{"c":"aVF","x":154,"y":627},{"c":"aVF","x":159,"y":631},{"c":"aVF","x":164,"y":615},{"c":"aVF","x":167,"y":645},{"c":"aVF","x":170,"y":629},{"c":"aVF","x":188,"y":620},{"c":"aVF","x":204,"y":631},
{"c":"aVF","x":238,"y":631},{"c":"aVF","x":242,"y":627},{"c":"aVF","x":247,"y":631},{"c":"aVF","x":252,"y":615},{"c":"aVF","x":255,"y":645},{"c":"aVF","x":258,"y":629},{"c":"aVF","x":276,"y":620},{"c":"aVF","x":292,"y":631},
{"c":"aVF","x":325,"y":631},{"c":"aVF","x":329,"y":627},{"c":"aVF","x":334,"y":631},{"c":"aVF","x":339,"y":615},{"c":"aVF","x":342,"y":645},{"c":"aVF","x":345,"y":629},{"c":"aVF","x":363,"y":620},{"c":"aVF","x":379,"y":631},
{"c":"aVF","x":412,"y":631},{"c":"aVF","x":416,"y":627},{"c":"aVF","x":421,"y":631},{"c":"aVF","x":426,"y":615},{"c":"aVF","x":429,"y":645},{"c":"aVF","x":432,"y":629},{"c":"aVF","x":450,"y":620},{"c":"aVF","x":466,"y":631},
{"c":"aVF","x":498,"y":631},{"c":"aVF","x":502,"y":627},{"c":"aVF","x":507,"y":631},{"c":"aVF","x":512,"y":615},{"c":"aVF","x":515,"y":645},{"c":"aVF","x":518,"y":629},{"c":"aVF","x":536,"y":620},{"c":"aVF","x":552,"y":631},
{"c":"aVF","x":584,"y":631},{"c":"aVF","x":588,"y":627},{"c":"aVF","x":593,"y":631},{"c":"aVF","x":598,"y":615},{"c":"aVF","x":601,"y":645},{"c":"aVF","x":604,"y":629},{"c":"aVF","x":622,"y":620},{"c":"aVF","x":638,"y":631},
{"c":"aVF","x":671,"y":631},{"c":"aVF","x":675,"y":627},{"c":"aVF","x":680,"y":631},{"c":"aVF","x":685,"y":615},{"c":"aVF","x":688,"y":645},{"c":"aVF","x":691,"y":629},{"c":"aVF","x":709,"y":620},{"c":"aVF","x":725,"y":631},{"c":"aVF","x":727,"y":631},
{"c":"V1","x":78,"y":653},{"c":"V1","x":79,"y":637},{"c":"V1","x":82,"y":711},{"c":"V1","x":85,"y":651},{"c":"V1","x":102,"y":641},{"c":"V1","x":120,"y":653},
{"c":"V1","x":163,"y":653},{"c":"V1","x":165,"y":637},{"c":"V1","x":168,"y":711},{"c":"V1","x":171,"y":651},{"c":"V1","x":188,"y":641},{"c":"V1","x":206,"y":653},
{"c":"V1","x":251,"y":653},{"c":"V1","x":253,"y":637},{"c":"V1","x":256,"y":700},{"c":"V1","x":259,"y":651},{"c":"V1","x":276,"y":641},{"c":"V1","x":294,"y":653},
{"c":"V1","x":338,"y":653},{"c":"V1","x":340,"y":637},{"c":"V1","x":343,"y":711},{"c":"V1","x":346,"y":651},{"c":"V1","x":363,"y":641},{"c":"V1","x":381,"y":653},
{"c":"V1","x":425,"y":653},{"c":"V1","x":427,"y":637},{"c":"V1","x":430,"y":711},{"c":"V1","x":433,"y":651},{"c":"V1","x":450,"y":641},{"c":"V1","x":468,"y":653},
{"c":"V1","x":511,"y":653},{"c":"V1","x":513,"y":637},{"c":"V1","x":516,"y":711},{"c":"V1","x":519,"y":651},{"c":"V1","x":536,"y":641},{"c":"V1","x":554,"y":653},
{"c":"V1","x":597,"y":653},{"c":"V1","x":599,"y":637},{"c":"V1","x":602,"y":700},{"c":"V1","x":605,"y":651},{"c":"V1","x":622,"y":641},{"c":"V1","x":640,"y":653},
{"c":"V1","x":684,"y":653},{"c":"V1","x":686,"y":637},{"c":"V1","x":689,"y":711},{"c":"V1","x":692,"y":651},{"c":"V1","x":709,"y":641},{"c":"V1","x":727,"y":653},
{"c":"PV12","x":78,"y":818},{"c":"PV12","x":153,"y":818},{"c":"PV12","x":155,"y":801},{"c":"PV12","x":157,"y":822},{"c":"PV12","x":160,"y":818},{"c":"PV12","x":238,"y":818},{"c":"PV12","x":240,"y":801},{"c":"PV12","x":242,"y":822},{"c":"PV12","x":245,"y":818},{"c":"PV12","x":325,"y":818},{"c":"PV12","x":327,"y":801},{"c":"PV12","x":329,"y":822},{"c":"PV12","x":332,"y":818},{"c":"PV12","x":411,"y":818},{"c":"PV12","x":413,"y":801},{"c":"PV12","x":415,"y":822},{"c":"PV12","x":418,"y":818},{"c":"PV12","x":498,"y":818},{"c":"PV12","x":500,"y":801},{"c":"PV12","x":502,"y":822},{"c":"PV12","x":505,"y":818},{"c":"PV12","x":582,"y":818},{"c":"PV12","x":584,"y":801},{"c":"PV12","x":586,"y":822},{"c":"PV12","x":589,"y":818},{"c":"PV12","x":670,"y":818},{"c":"PV12","x":672,"y":801},{"c":"PV12","x":674,"y":822},{"c":"PV12","x":677,"y":818},{"c":"PV12","x":727,"y":818},
{"c":"PV23","x":78,"y":850},{"c":"PV23","x":153,"y":850},{"c":"PV23","x":155,"y":838},{"c":"PV23","x":157,"y":858},{"c":"PV23","x":160,"y":850},{"c":"PV23","x":238,"y":850},{"c":"PV23","x":240,"y":838},{"c":"PV23","x":242,"y":858},{"c":"PV23","x":245,"y":850},{"c":"PV23","x":325,"y":850},{"c":"PV23","x":327,"y":838},{"c":"PV23","x":329,"y":858},{"c":"PV23","x":332,"y":850},{"c":"PV23","x":411,"y":850},{"c":"PV23","x":413,"y":838},{"c":"PV23","x":415,"y":858},{"c":"PV23","x":418,"y":850},{"c":"PV23","x":498,"y":850},{"c":"PV23","x":500,"y":840},{"c":"PV23","x":502,"y":856},{"c":"PV23","x":505,"y":850},{"c":"PV23","x":582,"y":850},{"c":"PV23","x":584,"y":840},{"c":"PV23","x":586,"y":856},{"c":"PV23","x":589,"y":850},{"c":"PV23","x":670,"y":850},{"c":"PV23","x":672,"y":840},{"c":"PV23","x":674,"y":856},{"c":"PV23","x":677,"y":850},{"c":"PV23","x":727,"y":850},
{"c":"PV34","x":78,"y":897},{"c":"PV34","x":154,"y":897},{"c":"PV34","x":155,"y":938},{"c":"PV34","x":156,"y":897},{"c":"PV34","x":158,"y":891},{"c":"PV34","x":162,"y":896},{"c":"PV34","x":240,"y":897},{"c":"PV34","x":241,"y":938},{"c":"PV34","x":242,"y":897},{"c":"PV34","x":244,"y":891},{"c":"PV34","x":248,"y":896},{"c":"PV34","x":328,"y":897},{"c":"PV34","x":329,"y":938},{"c":"PV34","x":330,"y":897},{"c":"PV34","x":332,"y":891},{"c":"PV34","x":336,"y":896},{"c":"PV34","x":413,"y":897},{"c":"PV34","x":414,"y":938},{"c":"PV34","x":415,"y":897},{"c":"PV34","x":417,"y":891},{"c":"PV34","x":421,"y":896},{"c":"PV34","x":499,"y":897},{"c":"PV34","x":500,"y":938},{"c":"PV34","x":501,"y":897},{"c":"PV34","x":503,"y":891},{"c":"PV34","x":507,"y":896},{"c":"PV34","x":584,"y":897},{"c":"PV34","x":585,"y":938},{"c":"PV34","x":586,"y":897},{"c":"PV34","x":588,"y":891},{"c":"PV34","x":592,"y":896},{"c":"PV34","x":672,"y":897},{"c":"PV34","x":673,"y":938},{"c":"PV34","x":674,"y":897},{"c":"PV34","x":676,"y":891},{"c":"PV34","x":680,"y":896},{"c":"PV34","x":727,"y":897},
{"c":"PV45","x":78,"y":935},{"c":"PV45","x":154,"y":935},{"c":"PV45","x":155,"y":929},{"c":"PV45","x":156,"y":941},{"c":"PV45","x":159,"y":935},{"c":"PV45","x":240,"y":935},{"c":"PV45","x":241,"y":929},{"c":"PV45","x":242,"y":941},{"c":"PV45","x":245,"y":935},{"c":"PV45","x":328,"y":935},{"c":"PV45","x":329,"y":929},{"c":"PV45","x":330,"y":941},{"c":"PV45","x":333,"y":935},{"c":"PV45","x":413,"y":935},{"c":"PV45","x":414,"y":929},{"c":"PV45","x":415,"y":941},{"c":"PV45","x":418,"y":935},{"c":"PV45","x":499,"y":935},{"c":"PV45","x":500,"y":929},{"c":"PV45","x":501,"y":941},{"c":"PV45","x":504,"y":935},{"c":"PV45","x":584,"y":935},{"c":"PV45","x":585,"y":929},{"c":"PV45","x":586,"y":941},{"c":"PV45","x":589,"y":935},{"c":"PV45","x":672,"y":935},{"c":"PV45","x":673,"y":929},{"c":"PV45","x":674,"y":941},{"c":"PV45","x":677,"y":935},{"c":"PV45","x":727,"y":935},
{"c":"PV56","x":78,"y":968},{"c":"PV56","x":154,"y":968},{"c":"PV56","x":155,"y":963},{"c":"PV56","x":157,"y":971},{"c":"PV56","x":159,"y":968},{"c":"PV56","x":240,"y":968},{"c":"PV56","x":241,"y":963},{"c":"PV56","x":243,"y":971},{"c":"PV56","x":245,"y":968},{"c":"PV56","x":328,"y":968},{"c":"PV56","x":329,"y":963},{"c":"PV56","x":331,"y":971},{"c":"PV56","x":333,"y":968},{"c":"PV56","x":413,"y":968},{"c":"PV56","x":414,"y":963},{"c":"PV56","x":416,"y":971},{"c":"PV56","x":418,"y":968},{"c":"PV56","x":499,"y":968},{"c":"PV56","x":500,"y":963},{"c":"PV56","x":502,"y":971},{"c":"PV56","x":504,"y":968},{"c":"PV56","x":584,"y":968},{"c":"PV56","x":585,"y":963},{"c":"PV56","x":587,"y":971},{"c":"PV56","x":589,"y":968},{"c":"PV56","x":672,"y":968},{"c":"PV56","x":673,"y":963},{"c":"PV56","x":675,"y":971},{"c":"PV56","x":677,"y":968},{"c":"PV56","x":727,"y":968},
{"c":"BP","x":78,"y":755},{"c":"BP","x":100,"y":753},{"c":"BP","x":126,"y":749},{"c":"BP","x":140,"y":754},{"c":"BP","x":154,"y":756},{"c":"BP","x":158,"y":760},{"c":"BP","x":162,"y":753},{"c":"BP","x":166,"y":764},{"c":"BP","x":170,"y":757},{"c":"BP","x":174,"y":766},{"c":"BP","x":178,"y":760},{"c":"BP","x":184,"y":767},{"c":"BP","x":196,"y":767},{"c":"BP","x":220,"y":768},{"c":"BP","x":242,"y":767},{"c":"BP","x":270,"y":764},{"c":"BP","x":293,"y":754},{"c":"BP","x":326,"y":755},{"c":"BP","x":360,"y":752},{"c":"BP","x":386,"y":748},{"c":"BP","x":419,"y":752},{"c":"BP","x":456,"y":753},{"c":"BP","x":475,"y":747},{"c":"BP","x":493,"y":752},{"c":"BP","x":531,"y":757},{"c":"BP","x":559,"y":756},{"c":"BP","x":587,"y":765},{"c":"BP","x":624,"y":765},{"c":"BP","x":647,"y":752},{"c":"BP","x":675,"y":754},{"c":"BP","x":698,"y":752},{"c":"BP","x":726,"y":749}
],
"b2b":[{"k":"tb","x":730,"x2":1280,"y":522,"y2":542},{"k":"wb","x":732,"x2":766,"y":524,"y2":540},{"k":"tb","x":730,"x2":800,"y":1041,"y2":1043},{"k":"pu","x":800,"x2":1280,"y":1041,"y2":1043}],
"b2r":[{"k":"q","x":800,"y":544,"x2":1280,"y2":544},{"k":"q","x":800,"y":1039,"x2":1280,"y2":1039},
{"k":"d","x":800,"y":693,"x2":1280,"y2":693},{"k":"d","x":800,"y":745,"x2":1280,"y2":745},{"k":"d","x":800,"y":797,"x2":1280,"y2":797},
{"k":"r","x":753,"y":693,"x2":753,"y2":797},{"k":"r","x":753,"y":693,"x2":760,"y2":693},{"k":"r","x":753,"y":745,"x2":760,"y2":745},{"k":"r","x":753,"y":797,"x2":762,"y2":797},
{"k":"g","x":800,"y":681,"x2":1280,"y2":681},{"k":"g","x":800,"y":701,"x2":1280,"y2":701},
{"k":"w","x":800,"y":690,"x2":1280,"y2":690},
{"k":"w","x":800,"y":850,"x2":1280,"y2":850},{"k":"w","x":800,"y":1000,"x2":1280,"y2":1000},{"k":"w","x":800,"y":1028,"x2":1280,"y2":1028},
{"k":"y","x":1062,"y":726,"x2":1048,"y2":743},{"k":"y","x":1048,"y":743,"x2":1049,"y2":734},{"k":"y","x":1048,"y":743,"x2":1056,"y2":740},
{"k":"y","x":1000,"y":797,"x2":1000,"y2":777},{"k":"y","x":1000,"y":776,"x2":996,"y2":784},{"k":"y","x":1000,"y":776,"x2":1004,"y2":784},
{"k":"w","x":800,"y":542,"x2":800,"y2":1041},{"k":"c","x":1237,"y":542,"x2":1237,"y2":1041},{"k":"q","x":753,"y":525,"x2":753,"y2":539}],
"b2x":[{"r":"lab","s":"I","x":795,"y":565,"k":"W"},{"r":"lab","s":"II","x":795,"y":587,"k":"W"},{"r":"lab","s":"III","x":795,"y":609,"k":"W"},{"r":"lab","s":"aVF","x":795,"y":630,"k":"W"},{"r":"lab","s":"V1","x":795,"y":653,"k":"W"},
{"r":"lab","s":"CS 1 2","x":795,"y":681,"k":"G"},{"r":"lab","s":"FR","x":795,"y":691,"k":"W"},{"r":"lab","s":"CS 9 10","x":795,"y":703,"k":"G"},{"r":"lab","s":"BP 2","x":795,"y":746,"k":"R"},
{"r":"lab","s":"PV12","x":795,"y":817,"k":"W"},{"r":"lab","s":"PV23","x":795,"y":850,"k":"W"},{"r":"lab","s":"PV34","x":795,"y":898,"k":"W"},{"r":"lab","s":"PV45","x":795,"y":935,"k":"W"},{"r":"lab","s":"PV56","x":795,"y":968,"k":"W"},{"r":"lab","s":"PV67","x":795,"y":1000,"k":"W"},{"r":"lab","s":"PV78","x":795,"y":1028,"k":"W"},
{"r":"ann","s":"V Wave","x":1053,"y":708,"k":"W"},{"r":"ann","s":"A  Wave","x":1012,"y":817,"k":"W"},
{"r":"num","s":"25","x":741,"y":532,"k":"t"},{"r":"sm","s":"▼","x":760,"y":532,"k":"t"},{"r":"tb","s":"PressurePreAb","x":1170,"y":528,"k":"t"},{"r":"tri","s":"▼","x":1171,"y":540,"k":"y"},{"r":"sym","s":"◇","x":1238,"y":536,"k":"c"},{"r":"sm","s":"40","x":761,"y":691,"k":"R"},{"r":"sm","s":"0","x":764,"y":797,"k":"R"}],
"b2t":[
{"c":"I","x":801,"y":567},
{"c":"I","x":810,"y":567},{"c":"I","x":812,"y":547},{"c":"I","x":814,"y":579},{"c":"I","x":817,"y":566},{"c":"I","x":835,"y":564},{"c":"I","x":851,"y":567},
{"c":"I","x":899,"y":567},{"c":"I","x":901,"y":547},{"c":"I","x":903,"y":579},{"c":"I","x":906,"y":566},{"c":"I","x":924,"y":564},{"c":"I","x":940,"y":567},
{"c":"I","x":986,"y":567},{"c":"I","x":988,"y":547},{"c":"I","x":990,"y":579},{"c":"I","x":993,"y":566},{"c":"I","x":1011,"y":564},{"c":"I","x":1027,"y":567},
{"c":"I","x":1074,"y":567},{"c":"I","x":1076,"y":547},{"c":"I","x":1078,"y":579},{"c":"I","x":1081,"y":566},{"c":"I","x":1099,"y":564},{"c":"I","x":1115,"y":567},
{"c":"I","x":1161,"y":567},{"c":"I","x":1163,"y":547},{"c":"I","x":1165,"y":579},{"c":"I","x":1168,"y":566},{"c":"I","x":1186,"y":564},{"c":"I","x":1202,"y":567},
{"c":"I","x":1240,"y":567},{"c":"I","x":1242,"y":547},{"c":"I","x":1244,"y":579},{"c":"I","x":1247,"y":566},{"c":"I","x":1265,"y":564},{"c":"I","x":1280,"y":567},
{"c":"II","x":801,"y":589},{"c":"II","x":803,"y":585},{"c":"II","x":806,"y":589},{"c":"II","x":811,"y":573},{"c":"II","x":814,"y":603},{"c":"II","x":817,"y":587},{"c":"II","x":835,"y":577},{"c":"II","x":851,"y":589},
{"c":"II","x":886,"y":589},{"c":"II","x":890,"y":585},{"c":"II","x":895,"y":589},{"c":"II","x":900,"y":573},{"c":"II","x":903,"y":603},{"c":"II","x":906,"y":587},{"c":"II","x":924,"y":577},{"c":"II","x":940,"y":589},
{"c":"II","x":973,"y":589},{"c":"II","x":977,"y":585},{"c":"II","x":982,"y":589},{"c":"II","x":987,"y":573},{"c":"II","x":990,"y":603},{"c":"II","x":993,"y":587},{"c":"II","x":1011,"y":577},{"c":"II","x":1027,"y":589},
{"c":"II","x":1061,"y":589},{"c":"II","x":1065,"y":585},{"c":"II","x":1070,"y":589},{"c":"II","x":1075,"y":573},{"c":"II","x":1078,"y":603},{"c":"II","x":1081,"y":587},{"c":"II","x":1099,"y":577},{"c":"II","x":1115,"y":589},
{"c":"II","x":1148,"y":589},{"c":"II","x":1152,"y":585},{"c":"II","x":1157,"y":589},{"c":"II","x":1162,"y":573},{"c":"II","x":1165,"y":603},{"c":"II","x":1168,"y":587},{"c":"II","x":1186,"y":577},{"c":"II","x":1202,"y":589},
{"c":"II","x":1227,"y":589},{"c":"II","x":1231,"y":585},{"c":"II","x":1236,"y":589},{"c":"II","x":1241,"y":573},{"c":"II","x":1244,"y":603},{"c":"II","x":1247,"y":587},{"c":"II","x":1265,"y":577},{"c":"II","x":1280,"y":589},
{"c":"III","x":801,"y":609},{"c":"III","x":803,"y":606},{"c":"III","x":806,"y":609},{"c":"III","x":811,"y":593},{"c":"III","x":814,"y":623},{"c":"III","x":817,"y":607},{"c":"III","x":835,"y":599},{"c":"III","x":851,"y":609},
{"c":"III","x":886,"y":609},{"c":"III","x":890,"y":606},{"c":"III","x":895,"y":609},{"c":"III","x":900,"y":593},{"c":"III","x":903,"y":623},{"c":"III","x":906,"y":607},{"c":"III","x":924,"y":599},{"c":"III","x":940,"y":609},
{"c":"III","x":973,"y":609},{"c":"III","x":977,"y":606},{"c":"III","x":982,"y":609},{"c":"III","x":987,"y":593},{"c":"III","x":990,"y":623},{"c":"III","x":993,"y":607},{"c":"III","x":1011,"y":599},{"c":"III","x":1027,"y":609},
{"c":"III","x":1061,"y":609},{"c":"III","x":1065,"y":606},{"c":"III","x":1070,"y":609},{"c":"III","x":1075,"y":593},{"c":"III","x":1078,"y":623},{"c":"III","x":1081,"y":607},{"c":"III","x":1099,"y":599},{"c":"III","x":1115,"y":609},
{"c":"III","x":1148,"y":609},{"c":"III","x":1152,"y":606},{"c":"III","x":1157,"y":609},{"c":"III","x":1162,"y":593},{"c":"III","x":1165,"y":623},{"c":"III","x":1168,"y":607},{"c":"III","x":1186,"y":599},{"c":"III","x":1202,"y":609},
{"c":"III","x":1227,"y":609},{"c":"III","x":1231,"y":606},{"c":"III","x":1236,"y":609},{"c":"III","x":1241,"y":593},{"c":"III","x":1244,"y":623},{"c":"III","x":1247,"y":607},{"c":"III","x":1265,"y":599},{"c":"III","x":1280,"y":609},
{"c":"aVF","x":801,"y":631},{"c":"aVF","x":803,"y":627},{"c":"aVF","x":806,"y":631},{"c":"aVF","x":811,"y":615},{"c":"aVF","x":814,"y":645},{"c":"aVF","x":817,"y":629},{"c":"aVF","x":835,"y":620},{"c":"aVF","x":851,"y":631},
{"c":"aVF","x":886,"y":631},{"c":"aVF","x":890,"y":627},{"c":"aVF","x":895,"y":631},{"c":"aVF","x":900,"y":615},{"c":"aVF","x":903,"y":645},{"c":"aVF","x":906,"y":629},{"c":"aVF","x":924,"y":620},{"c":"aVF","x":940,"y":631},
{"c":"aVF","x":973,"y":631},{"c":"aVF","x":977,"y":627},{"c":"aVF","x":982,"y":631},{"c":"aVF","x":987,"y":615},{"c":"aVF","x":990,"y":645},{"c":"aVF","x":993,"y":629},{"c":"aVF","x":1011,"y":620},{"c":"aVF","x":1027,"y":631},
{"c":"aVF","x":1061,"y":631},{"c":"aVF","x":1065,"y":627},{"c":"aVF","x":1070,"y":631},{"c":"aVF","x":1075,"y":615},{"c":"aVF","x":1078,"y":645},{"c":"aVF","x":1081,"y":629},{"c":"aVF","x":1099,"y":620},{"c":"aVF","x":1115,"y":631},
{"c":"aVF","x":1148,"y":631},{"c":"aVF","x":1152,"y":627},{"c":"aVF","x":1157,"y":631},{"c":"aVF","x":1162,"y":615},{"c":"aVF","x":1165,"y":645},{"c":"aVF","x":1168,"y":629},{"c":"aVF","x":1186,"y":620},{"c":"aVF","x":1202,"y":631},
{"c":"aVF","x":1227,"y":631},{"c":"aVF","x":1231,"y":627},{"c":"aVF","x":1236,"y":631},{"c":"aVF","x":1241,"y":615},{"c":"aVF","x":1244,"y":645},{"c":"aVF","x":1247,"y":629},{"c":"aVF","x":1265,"y":620},{"c":"aVF","x":1280,"y":631},
{"c":"V1","x":801,"y":653},
{"c":"V1","x":810,"y":653},{"c":"V1","x":812,"y":637},{"c":"V1","x":815,"y":711},{"c":"V1","x":818,"y":651},{"c":"V1","x":835,"y":641},{"c":"V1","x":853,"y":653},
{"c":"V1","x":899,"y":653},{"c":"V1","x":901,"y":637},{"c":"V1","x":904,"y":711},{"c":"V1","x":907,"y":651},{"c":"V1","x":924,"y":641},{"c":"V1","x":942,"y":653},
{"c":"V1","x":986,"y":653},{"c":"V1","x":988,"y":637},{"c":"V1","x":991,"y":711},{"c":"V1","x":994,"y":651},{"c":"V1","x":1011,"y":641},{"c":"V1","x":1029,"y":653},
{"c":"V1","x":1074,"y":653},{"c":"V1","x":1076,"y":637},{"c":"V1","x":1079,"y":711},{"c":"V1","x":1082,"y":651},{"c":"V1","x":1099,"y":641},{"c":"V1","x":1117,"y":653},
{"c":"V1","x":1161,"y":653},{"c":"V1","x":1163,"y":637},{"c":"V1","x":1166,"y":711},{"c":"V1","x":1169,"y":651},{"c":"V1","x":1186,"y":641},{"c":"V1","x":1204,"y":653},
{"c":"V1","x":1240,"y":653},{"c":"V1","x":1242,"y":637},{"c":"V1","x":1245,"y":711},{"c":"V1","x":1248,"y":651},{"c":"V1","x":1265,"y":641},{"c":"V1","x":1280,"y":653},
{"c":"PV12","x":801,"y":817},{"c":"PV12","x":889,"y":817},{"c":"PV12","x":890,"y":813},{"c":"PV12","x":893,"y":819},{"c":"PV12","x":895,"y":817},{"c":"PV12","x":975,"y":817},{"c":"PV12","x":976,"y":813},{"c":"PV12","x":979,"y":819},{"c":"PV12","x":981,"y":817},{"c":"PV12","x":1064,"y":817},{"c":"PV12","x":1065,"y":813},{"c":"PV12","x":1068,"y":819},{"c":"PV12","x":1070,"y":817},{"c":"PV12","x":1152,"y":817},{"c":"PV12","x":1153,"y":813},{"c":"PV12","x":1156,"y":819},{"c":"PV12","x":1158,"y":817},{"c":"PV12","x":1225,"y":817},{"c":"PV12","x":1226,"y":813},{"c":"PV12","x":1229,"y":819},{"c":"PV12","x":1231,"y":817},{"c":"PV12","x":1280,"y":817},
{"c":"PV34","x":801,"y":898},{"c":"PV34","x":888,"y":898},{"c":"PV34","x":890,"y":889},{"c":"PV34","x":891,"y":951},{"c":"PV34","x":893,"y":898},{"c":"PV34","x":974,"y":898},{"c":"PV34","x":976,"y":889},{"c":"PV34","x":977,"y":951},{"c":"PV34","x":979,"y":898},{"c":"PV34","x":1063,"y":898},{"c":"PV34","x":1065,"y":889},{"c":"PV34","x":1066,"y":951},{"c":"PV34","x":1068,"y":898},{"c":"PV34","x":1151,"y":898},{"c":"PV34","x":1153,"y":889},{"c":"PV34","x":1154,"y":951},{"c":"PV34","x":1156,"y":898},{"c":"PV34","x":1224,"y":898},{"c":"PV34","x":1226,"y":889},{"c":"PV34","x":1227,"y":951},{"c":"PV34","x":1229,"y":898},{"c":"PV34","x":1280,"y":898},
{"c":"PV45","x":801,"y":935},{"c":"PV45","x":889,"y":935},{"c":"PV45","x":890,"y":930},{"c":"PV45","x":892,"y":940},{"c":"PV45","x":894,"y":935},{"c":"PV45","x":975,"y":935},{"c":"PV45","x":976,"y":930},{"c":"PV45","x":978,"y":940},{"c":"PV45","x":980,"y":935},{"c":"PV45","x":1064,"y":935},{"c":"PV45","x":1065,"y":930},{"c":"PV45","x":1067,"y":940},{"c":"PV45","x":1069,"y":935},{"c":"PV45","x":1152,"y":935},{"c":"PV45","x":1153,"y":930},{"c":"PV45","x":1155,"y":940},{"c":"PV45","x":1157,"y":935},{"c":"PV45","x":1225,"y":935},{"c":"PV45","x":1226,"y":930},{"c":"PV45","x":1228,"y":940},{"c":"PV45","x":1230,"y":935},{"c":"PV45","x":1280,"y":935},
{"c":"PV56","x":801,"y":968},{"c":"PV56","x":889,"y":968},{"c":"PV56","x":890,"y":963},{"c":"PV56","x":892,"y":971},{"c":"PV56","x":894,"y":968},{"c":"PV56","x":975,"y":968},{"c":"PV56","x":976,"y":963},{"c":"PV56","x":978,"y":971},{"c":"PV56","x":980,"y":968},{"c":"PV56","x":1064,"y":968},{"c":"PV56","x":1065,"y":963},{"c":"PV56","x":1067,"y":971},{"c":"PV56","x":1069,"y":968},{"c":"PV56","x":1152,"y":968},{"c":"PV56","x":1153,"y":963},{"c":"PV56","x":1155,"y":971},{"c":"PV56","x":1157,"y":968},{"c":"PV56","x":1225,"y":968},{"c":"PV56","x":1226,"y":960},{"c":"PV56","x":1228,"y":973},{"c":"PV56","x":1230,"y":968},{"c":"PV56","x":1280,"y":968},
{"c":"BP","x":801,"y":742},{"c":"BP","x":822,"y":740},{"c":"BP","x":836,"y":742},{"c":"BP","x":863,"y":738},{"c":"BP","x":886,"y":743},{"c":"BP","x":907,"y":747},{"c":"BP","x":927,"y":753},{"c":"BP","x":950,"y":750},{"c":"BP","x":978,"y":752},{"c":"BP","x":1000,"y":748},{"c":"BP","x":1021,"y":743},{"c":"BP","x":1042,"y":737},{"c":"BP","x":1056,"y":743},{"c":"BP","x":1085,"y":745},{"c":"BP","x":1106,"y":742},{"c":"BP","x":1129,"y":737},{"c":"BP","x":1156,"y":743},{"c":"BP","x":1191,"y":745},{"c":"BP","x":1219,"y":747},{"c":"BP","x":1237,"y":753},{"c":"BP","x":1255,"y":758},{"c":"BP","x":1262,"y":763},{"c":"BP","x":1266,"y":758},{"c":"BP","x":1270,"y":764},{"c":"BP","x":1275,"y":758},{"c":"BP","x":1280,"y":760}
]
},
"spacing":4,
"vconcat":[
{"spacing":5,"hconcat":[
{"width":684,"height":510,"view":{"fill":"#000000","stroke":null},
"encoding":{"x":{"field":"x","type":"quantitative","axis":null,"scale":{"domain":[8,692],"nice":false,"zero":false}},"y":{"field":"y","type":"quantitative","axis":null,"scale":{"domain":[8,518],"nice":false,"zero":false,"reverse":true}},"color":{"field":"k","type":"nominal","legend":null,"scale":{"domain":["w","W","g","G","r","R","d","c","q","tb","wb","pu","y","m","o","t"],"range":["#d6d6d6","#ffffff","#22d422","#36e036","#b01818","#ee2c2c","#861010","#8a8a8a","#555555","#eeeeee","#ffffff","#9a60da","#d4be00","#c43c8e","#f0a030","#333333"]}}},
"layer":[
{"data":{"name":"a1b"},"mark":{"type":"rect","clip":true,"stroke":"#b8b8b8","strokeWidth":0.6},"encoding":{"x2":{"field":"x2"},"y2":{"field":"y2"}}},
{"data":{"name":"a1r"},"mark":{"type":"rule","clip":true,"strokeWidth":1.3},"encoding":{"x2":{"field":"x2"},"y2":{"field":"y2"}}},
{"data":{"name":"a1t"},"transform":[{"filter":"datum.c!='BP'"}],"mark":{"type":"line","clip":true,"strokeWidth":1.3},"encoding":{"detail":{"field":"c","type":"nominal"},"color":{"value":"#d9d9d9"}}},
{"data":{"name":"a1t"},"transform":[{"filter":"datum.c=='BP'"}],"mark":{"type":"line","clip":true,"strokeWidth":1.7,"interpolate":"monotone"},"encoding":{"color":{"value":"#a51616"}}},
{"data":{"name":"a1x"},"transform":[{"filter":"datum.r=='lab'"}],"mark":{"type":"text","clip":true,"align":"right","baseline":"middle","font":"DejaVu Sans","fontWeight":"bold","fontSize":{"expr":"datum.s=='FR'?9:11"}},"encoding":{"text":{"field":"s"}}},
{"data":{"name":"a1x"},"transform":[{"filter":"datum.r=='ann'||datum.r=='big'"}],"mark":{"type":"text","clip":true,"align":"center","baseline":"middle","font":"DejaVu Sans","fontWeight":"bold","fontSize":{"expr":"datum.r=='big'?28:12"}},"encoding":{"text":{"field":"s"}}},
{"data":{"name":"a1x"},"transform":[{"filter":"datum.r!='lab'&&datum.r!='ann'&&datum.r!='big'"}],"mark":{"type":"text","clip":true,"align":"center","baseline":"middle","font":"DejaVu Sans","fontSize":{"expr":"datum.r=='num'?10:datum.r=='sym'?11:datum.r=='tri'?7:datum.r=='sm'?6:7.5"}},"encoding":{"text":{"field":"s"}}}
]},
{"width":583,"height":510,"view":{"fill":"#000000","stroke":null},
"encoding":{"x":{"field":"x","type":"quantitative","axis":null,"scale":{"domain":[697,1280],"nice":false,"zero":false}},"y":{"field":"y","type":"quantitative","axis":null,"scale":{"domain":[8,518],"nice":false,"zero":false,"reverse":true}},"color":{"field":"k","type":"nominal","legend":null,"scale":{"domain":["w","W","g","G","r","R","d","c","q","tb","wb","pu","y","m","o","t"],"range":["#d6d6d6","#ffffff","#22d422","#36e036","#b01818","#ee2c2c","#861010","#8a8a8a","#555555","#eeeeee","#ffffff","#9a60da","#d4be00","#c43c8e","#f0a030","#333333"]}}},
"layer":[
{"data":{"name":"a2b"},"mark":{"type":"rect","clip":true,"stroke":"#b8b8b8","strokeWidth":0.6},"encoding":{"x2":{"field":"x2"},"y2":{"field":"y2"}}},
{"data":{"name":"a2r"},"mark":{"type":"rule","clip":true,"strokeWidth":1.3},"encoding":{"x2":{"field":"x2"},"y2":{"field":"y2"}}},
{"data":{"name":"a2t"},"transform":[{"filter":"datum.c!='BP'"}],"mark":{"type":"line","clip":true,"strokeWidth":1.3},"encoding":{"detail":{"field":"c","type":"nominal"},"color":{"value":"#d9d9d9"}}},
{"data":{"name":"a2t"},"transform":[{"filter":"datum.c=='BP'"}],"mark":{"type":"line","clip":true,"strokeWidth":1.7,"interpolate":"monotone"},"encoding":{"color":{"value":"#a51616"}}},
{"data":{"name":"a2x"},"transform":[{"filter":"datum.r=='lab'"}],"mark":{"type":"text","clip":true,"align":"right","baseline":"middle","font":"DejaVu Sans","fontWeight":"bold","fontSize":{"expr":"datum.s=='FR'?9:11"}},"encoding":{"text":{"field":"s"}}},
{"data":{"name":"a2x"},"transform":[{"filter":"datum.r=='ann'||datum.r=='big'"}],"mark":{"type":"text","clip":true,"align":"center","baseline":"middle","font":"DejaVu Sans","fontWeight":"bold","fontSize":{"expr":"datum.r=='big'?28:12"}},"encoding":{"text":{"field":"s"}}},
{"data":{"name":"a2x"},"transform":[{"filter":"datum.r!='lab'&&datum.r!='ann'&&datum.r!='big'"}],"mark":{"type":"text","clip":true,"align":"center","baseline":"middle","font":"DejaVu Sans","fontSize":{"expr":"datum.r=='num'?10:datum.r=='sym'?11:datum.r=='tri'?7:datum.r=='sm'?6:7.5"}},"encoding":{"text":{"field":"s"}}}
]}
]},
{"spacing":3,"hconcat":[
{"width":719,"height":521,"view":{"fill":"#000000","stroke":null},
"encoding":{"x":{"field":"x","type":"quantitative","axis":null,"scale":{"domain":[8,727],"nice":false,"zero":false}},"y":{"field":"y","type":"quantitative","axis":null,"scale":{"domain":[522,1043],"nice":false,"zero":false,"reverse":true}},"color":{"field":"k","type":"nominal","legend":null,"scale":{"domain":["w","W","g","G","r","R","d","c","q","tb","wb","pu","y","m","o","t"],"range":["#d6d6d6","#ffffff","#22d422","#36e036","#b01818","#ee2c2c","#861010","#8a8a8a","#555555","#eeeeee","#ffffff","#9a60da","#d4be00","#c43c8e","#f0a030","#333333"]}}},
"layer":[
{"data":{"name":"b1b"},"mark":{"type":"rect","clip":true,"stroke":"#b8b8b8","strokeWidth":0.6},"encoding":{"x2":{"field":"x2"},"y2":{"field":"y2"}}},
{"data":{"name":"b1r"},"mark":{"type":"rule","clip":true,"strokeWidth":1.3},"encoding":{"x2":{"field":"x2"},"y2":{"field":"y2"}}},
{"data":{"name":"b1t"},"transform":[{"filter":"datum.c!='BP'"}],"mark":{"type":"line","clip":true,"strokeWidth":1.3},"encoding":{"detail":{"field":"c","type":"nominal"},"color":{"value":"#d9d9d9"}}},
{"data":{"name":"b1t"},"transform":[{"filter":"datum.c=='BP'"}],"mark":{"type":"line","clip":true,"strokeWidth":1.7,"interpolate":"monotone"},"encoding":{"color":{"value":"#a51616"}}},
{"data":{"name":"b1x"},"transform":[{"filter":"datum.r=='lab'"}],"mark":{"type":"text","clip":true,"align":"right","baseline":"middle","font":"DejaVu Sans","fontWeight":"bold","fontSize":{"expr":"datum.s=='FR'?9:11"}},"encoding":{"text":{"field":"s"}}},
{"data":{"name":"b1x"},"transform":[{"filter":"datum.r=='ann'||datum.r=='big'"}],"mark":{"type":"text","clip":true,"align":"center","baseline":"middle","font":"DejaVu Sans","fontWeight":"bold","fontSize":{"expr":"datum.r=='big'?28:12"}},"encoding":{"text":{"field":"s"}}},
{"data":{"name":"b1x"},"transform":[{"filter":"datum.r!='lab'&&datum.r!='ann'&&datum.r!='big'"}],"mark":{"type":"text","clip":true,"align":"center","baseline":"middle","font":"DejaVu Sans","fontSize":{"expr":"datum.r=='num'?10:datum.r=='sym'?11:datum.r=='tri'?7:datum.r=='sm'?6:7.5"}},"encoding":{"text":{"field":"s"}}}
]},
{"width":550,"height":521,"view":{"fill":"#000000","stroke":null},
"encoding":{"x":{"field":"x","type":"quantitative","axis":null,"scale":{"domain":[730,1280],"nice":false,"zero":false}},"y":{"field":"y","type":"quantitative","axis":null,"scale":{"domain":[522,1043],"nice":false,"zero":false,"reverse":true}},"color":{"field":"k","type":"nominal","legend":null,"scale":{"domain":["w","W","g","G","r","R","d","c","q","tb","wb","pu","y","m","o","t"],"range":["#d6d6d6","#ffffff","#22d422","#36e036","#b01818","#ee2c2c","#861010","#8a8a8a","#555555","#eeeeee","#ffffff","#9a60da","#d4be00","#c43c8e","#f0a030","#333333"]}}},
"layer":[
{"data":{"name":"b2b"},"mark":{"type":"rect","clip":true,"stroke":"#b8b8b8","strokeWidth":0.6},"encoding":{"x2":{"field":"x2"},"y2":{"field":"y2"}}},
{"data":{"name":"b2r"},"mark":{"type":"rule","clip":true,"strokeWidth":1.3},"encoding":{"x2":{"field":"x2"},"y2":{"field":"y2"}}},
{"data":{"name":"b2t"},"transform":[{"filter":"datum.c!='BP'"}],"mark":{"type":"line","clip":true,"strokeWidth":1.3},"encoding":{"detail":{"field":"c","type":"nominal"},"color":{"value":"#d9d9d9"}}},
{"data":{"name":"b2t"},"transform":[{"filter":"datum.c=='BP'"}],"mark":{"type":"line","clip":true,"strokeWidth":1.7,"interpolate":"monotone"},"encoding":{"color":{"value":"#a51616"}}},
{"data":{"name":"b2x"},"transform":[{"filter":"datum.r=='lab'"}],"mark":{"type":"text","clip":true,"align":"right","baseline":"middle","font":"DejaVu Sans","fontWeight":"bold","fontSize":{"expr":"datum.s=='FR'?9:11"}},"encoding":{"text":{"field":"s"}}},
{"data":{"name":"b2x"},"transform":[{"filter":"datum.r=='ann'||datum.r=='big'"}],"mark":{"type":"text","clip":true,"align":"center","baseline":"middle","font":"DejaVu Sans","fontWeight":"bold","fontSize":{"expr":"datum.r=='big'?28:12"}},"encoding":{"text":{"field":"s"}}},
{"data":{"name":"b2x"},"transform":[{"filter":"datum.r!='lab'&&datum.r!='ann'&&datum.r!='big'"}],"mark":{"type":"text","clip":true,"align":"center","baseline":"middle","font":"DejaVu Sans","fontSize":{"expr":"datum.r=='num'?10:datum.r=='sym'?11:datum.r=='tri'?7:datum.r=='sm'?6:7.5"}},"encoding":{"text":{"field":"s"}}}
]}
]}
]
}
